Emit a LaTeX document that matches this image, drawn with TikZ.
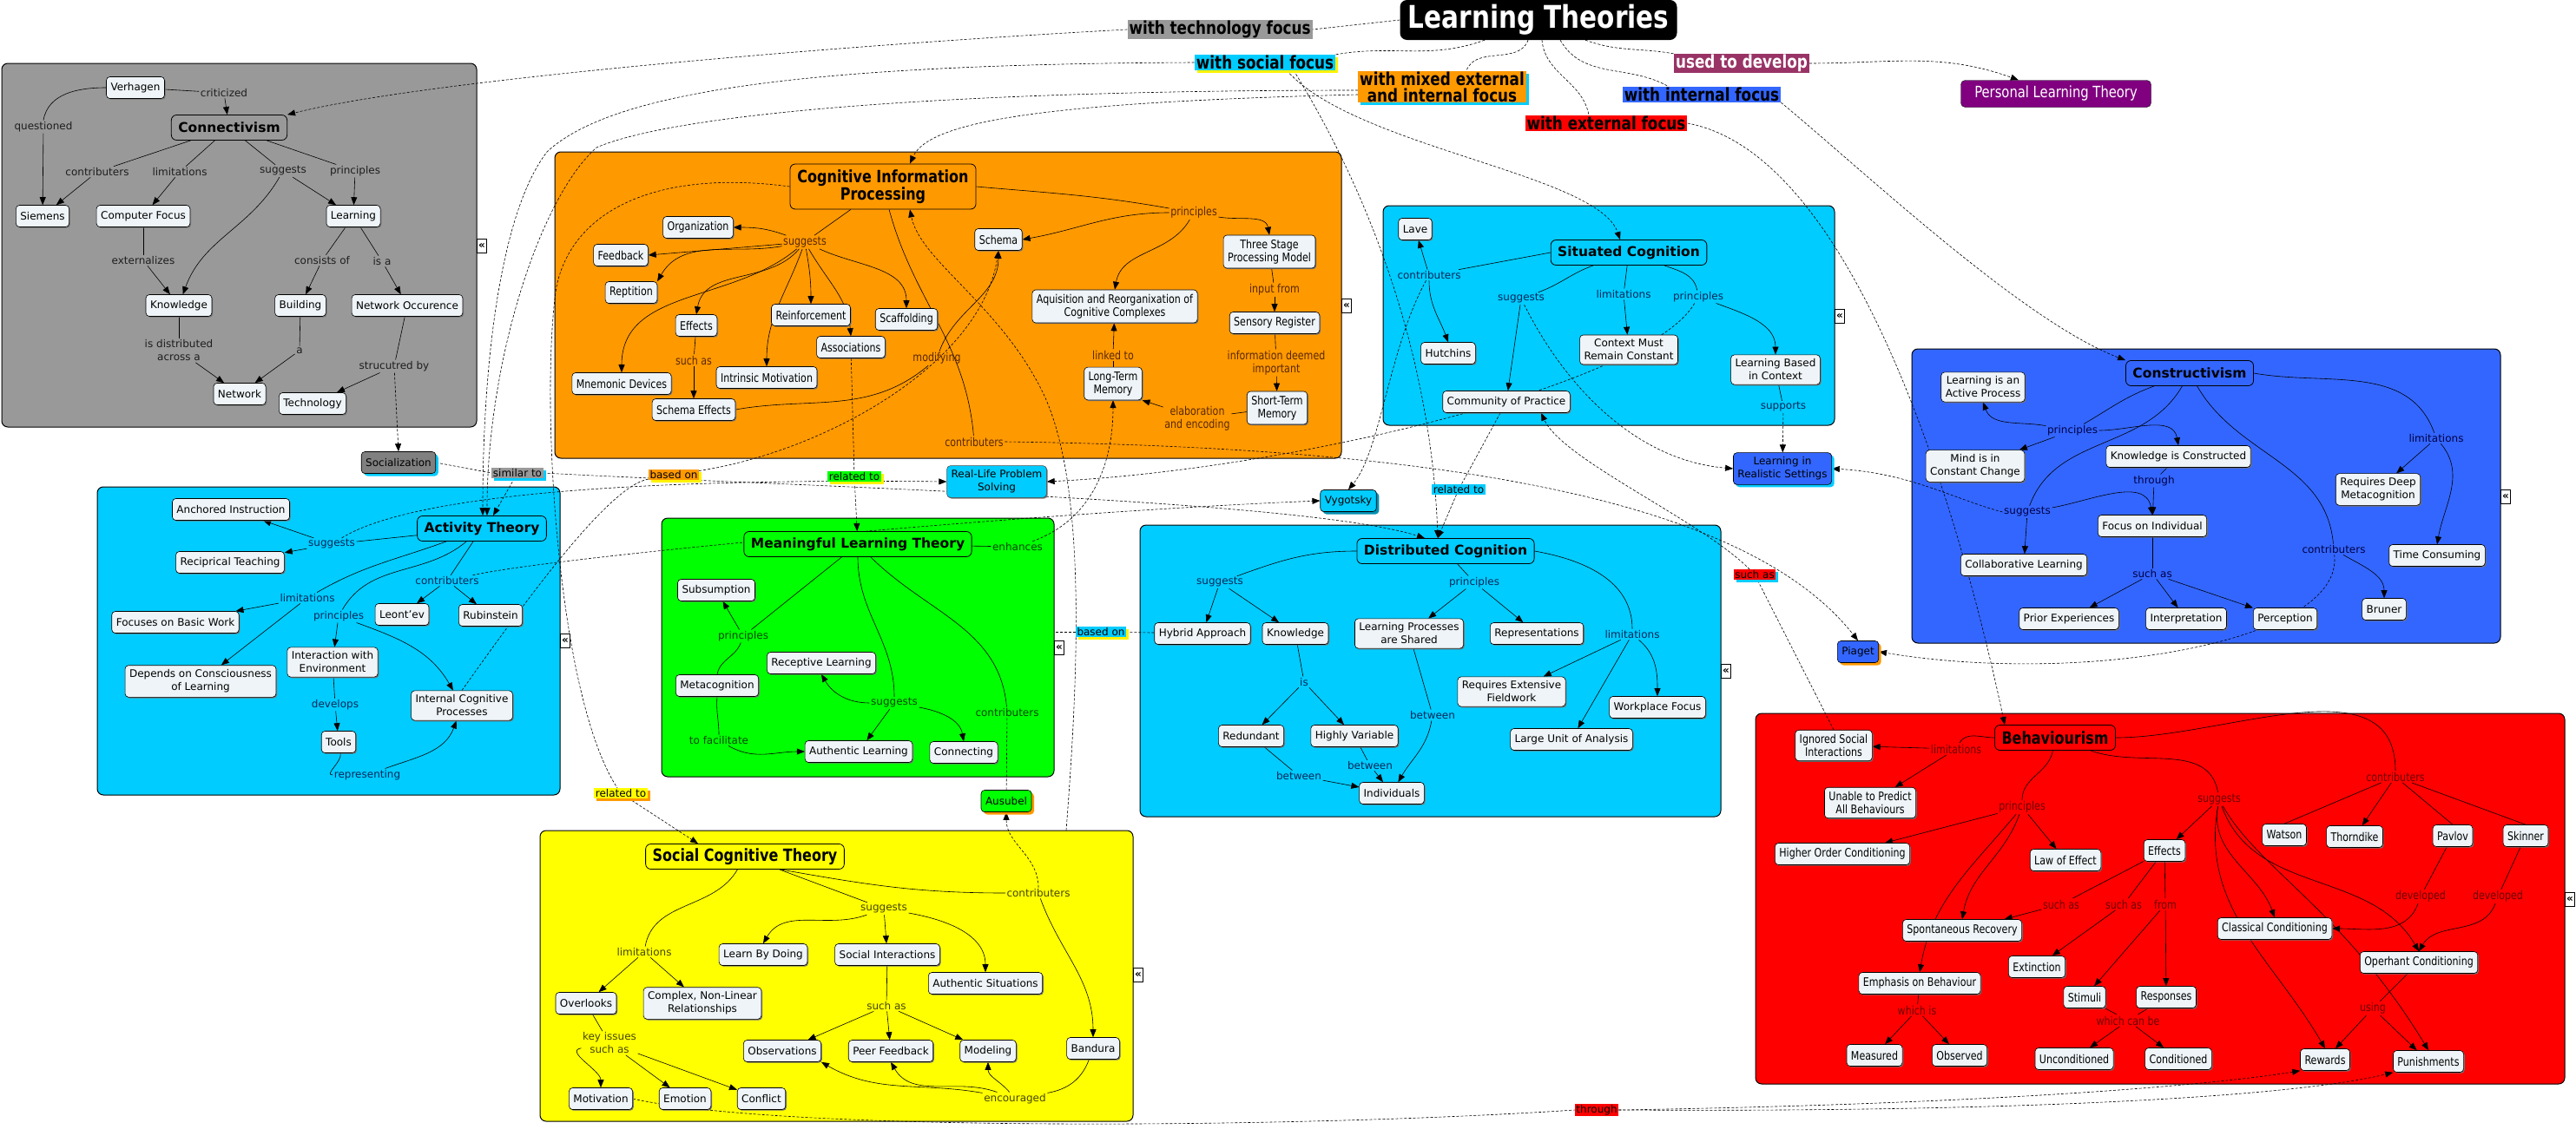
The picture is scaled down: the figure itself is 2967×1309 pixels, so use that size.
\documentclass[tikz,border=0pt]{standalone}
\usepackage{fontspec}
\setmainfont{DejaVu Sans}
\newfontfamily\cond[FakeStretch=0.82]{DejaVu Sans}
\usetikzlibrary{arrows.meta,shadows}
\pgfdeclarelayer{back}
\pgfdeclarelayer{mid}
\pgfsetlayers{back,mid,main}
\definecolor{cGray}{RGB}{153,153,153}
\definecolor{cSoc}{RGB}{128,128,128}
\definecolor{cOrange}{RGB}{255,153,0}
\definecolor{cCyan}{RGB}{0,204,255}
\definecolor{cGreen}{RGB}{0,255,0}
\definecolor{cYellow}{RGB}{255,255,0}
\definecolor{cBlue}{RGB}{51,102,255}
\definecolor{cRed}{RGB}{255,0,0}
\definecolor{cPurple}{RGB}{128,0,128}
\definecolor{cUsed}{RGB}{153,51,102}
\definecolor{cNode}{RGB}{238,244,247}
\definecolor{tGray}{RGB}{30,30,30}
\definecolor{tOr}{RGB}{90,40,0}
\definecolor{tCy}{RGB}{0,40,90}
\definecolor{tGr}{RGB}{0,70,0}
\definecolor{tYe}{RGB}{70,70,0}
\definecolor{tRe}{RGB}{110,0,0}
\definecolor{tBl}{RGB}{0,0,70}
\newcommand\fnorm{\fontsize{12}{15}\selectfont}
\newcommand\fcond{\cond\fontsize{13.5}{15}\selectfont}
\newcommand\Ln[2]{\draw[ed] (#1) -- (#2);}
\newcommand\Ar[2]{\draw[ar] (#1) -- (#2);}
\tikzset{
 cn/.style={draw=black, line width=0.6pt, rounded corners=4pt, fill=cNode, inner xsep=5pt, inner ysep=5pt, minimum height=25pt, align=center, font=\fnorm, general shadow={fill=black!55, shadow xshift=1.2pt, shadow yshift=-1.2pt}},
 cc/.style={cn, font=\fcond},
 hd/.style={draw=black, line width=0.8pt, rounded corners=6pt, inner xsep=8pt, inner ysep=4pt, minimum height=29pt, align=center, font=\fontsize{15.5}{18}\selectfont\bfseries},
 hdc/.style={hd, font=\cond\fontsize{19.5}{20}\selectfont\bfseries},
 lb/.style={inner sep=1.5pt, align=center, font=\fnorm},
 lbc/.style={lb, font=\fcond},
 lbG/.style={lb, text=tGray},
 lbO/.style={lbc, text=tOr},
 lbS/.style={lb, text=tCy},
 lbM/.style={lb, text=tGr},
 lbY/.style={lb, text=tYe},
 lbR/.style={lbc, text=tRe},
 lbB/.style={lb, text=tBl},
 ed/.style={line width=0.6pt},
 ar/.style={line width=0.6pt, -{Triangle[length=9pt,width=7pt]}},
 dl/.style={line width=0.6pt, dash pattern=on 3pt off 2pt},
 da/.style={dl, -{Triangle[length=9pt,width=7pt]}},
 panel/.style={draw=black, line width=1pt, rounded corners=7pt, inner sep=0pt, outer sep=0pt},
 tl/.style={inner xsep=2pt, inner ysep=1pt, align=center, font=\cond\fontsize{20.5}{19}\selectfont\bfseries},
 cl/.style={inner xsep=1.5pt, inner ysep=1pt, font=\fnorm},
 sh/.style={general shadow={fill=#1, shadow xshift=3pt, shadow yshift=-3pt}},
 ico/.style={draw=black, fill=white, line width=0.5pt, inner sep=0.5pt, minimum width=11pt, minimum height=16pt, font=\fontsize{12}{12}\selectfont\bfseries},
}
\begin{document}
\begin{tikzpicture}[x=1pt,y=-1pt]
\useasboundingbox (0,0) rectangle (2967,1309);
\begin{pgfonlayer}{back}
\node[panel, fill=cGray, minimum width=547pt, minimum height=419pt] (Pg) at (275.5,282.5) {};
\node[panel, fill=cOrange, minimum width=906pt, minimum height=353pt] (Po) at (1092,351.5) {};
\node[panel, fill=cCyan, minimum width=520pt, minimum height=253pt] (Ps) at (1853,363.5) {};
\node[panel, fill=cBlue, minimum width=678pt, minimum height=339pt] (Pc) at (2541,571.5) {};
\node[panel, fill=cCyan, minimum width=533pt, minimum height=355pt] (Pa) at (378.5,738.5) {};
\node[panel, fill=cGreen, minimum width=452pt, minimum height=298pt] (Pm) at (988,746) {};
\node[panel, fill=cCyan, minimum width=669pt, minimum height=336pt] (Pd) at (1647.5,773) {};
\node[panel, fill=cYellow, minimum width=683pt, minimum height=335pt] (Py) at (963.5,1124.5) {};
\node[panel, fill=cRed, minimum width=932pt, minimum height=427pt] (Pr) at (2488,1035.5) {};
\end{pgfonlayer}
\coordinate (yTop) at (1228,957);
\coordinate (mRE) at (1214,728);
% collapse icons
\node[ico] (I1) at (555,283) {«};
\node[ico] (I2) at (1551,352) {«};
\node[ico] (I3) at (2119,364) {«};
\node[ico] (I4) at (2886,572) {«};
\node[ico] (I5) at (651,738) {«};
\node[ico] (I6) at (1220,746) {«};
\node[ico] (I7) at (1988,773) {«};
\node[ico] (I8) at (1311,1123) {«};
\node[ico] (I9) at (2960,1036) {«};
% ---------- title
\node[fill=black, text=white, rounded corners=8pt, inner sep=0pt, minimum width=319pt, minimum height=46pt, font=\cond\fontsize{36}{36}\selectfont\bfseries] (LT) at (1772,23) {Learning Theories};
\node[tl, fill=cGray] (tTech) at (1405,34) {with technology focus};
\node[tl, fill=cCyan, sh=yellow] (tSoc) at (1457,72) {with social focus};
\node[tl, fill=cOrange, sh=cCyan] (tMix) at (1661,100) {with mixed external\\and internal focus};
\node[tl, fill=cUsed, text=white] (tUsed) at (2006,73) {used to develop};
\node[tl, fill=cBlue] (tInt) at (1960,109) {with internal focus};
\node[tl, fill=cRed] (tExt) at (1850,142) {with external focus};
\node[draw=black, fill=cPurple, text=white, rounded corners=5pt, minimum width=219pt, minimum height=31pt, font=\cond\fontsize{18}{18}\selectfont] (PLT) at (2368,108) {Personal Learning Theory};
% ---------- Connectivism
\node[cn] (gVer) at (156,101) {Verhagen};
\node[hd, fill=cGray] (gCon) at (264,147) {Connectivism};
\node[cn] (gSie) at (49,249) {Siemens};
\node[cn] (gCF) at (165,249) {Computer Focus};
\node[cn] (gLea) at (407,249) {Learning};
\node[cn] (gKno) at (206,352) {Knowledge};
\node[cn] (gBui) at (346,352) {Building};
\node[cn] (gNO) at (469,352) {Network Occurence};
\node[cn] (gNet) at (276,454) {Network};
\node[cn] (gTec) at (360,465) {Technology};
\node[lbG] (gLcr) at (258,107) {criticized};
\node[lbG] (gLq) at (50,146) {questioned};
\node[lbG] (gLc) at (112,198) {contributers};
\node[lbG] (gLl) at (207,198) {limitations};
\node[lbG] (gLs) at (326,197) {suggests};
\node[lbG] (gLp) at (409,197) {principles};
\node[lbG] (gLe) at (165,300) {externalizes};
\node[lbG] (gLco) at (371,300) {consists of};
\node[lbG] (gLia) at (440,301) {is a};
\node[lbG] (gLd) at (206,404) {is distributed\\across a};
\node[lbG] (gLa) at (345,404) {a};
\node[lbG] (gLst) at (454,422) {strucutred by};
% ---------- free nodes
\node[cn, fill=cSoc, sh=cCyan] (xSoc) at (459,533) {Socialization};
\node[cl, fill=cGray, sh=cCyan] (xSim) at (596,545) {similar to};
\node[cn, fill=cCyan, draw=black!70] (RLPS) at (1148,555) {Real-Life Problem\\Solving};
\node[cn, fill=cCyan, sh=cCyan!70!black] (Vyg) at (1553,577) {Vygotsky};
\node[cn, fill=cBlue, sh=cCyan] (LRS) at (2053,540) {Learning in\\Realistic Settings};
\node[cn, fill=cBlue, sh=cOrange] (Pia) at (2140,751) {Piaget};
\node[cn, fill=cGreen, sh=cOrange] (Aus) at (1159,923) {Ausubel};
\node[cl, fill=cOrange, sh=yellow] (oBased) at (776,547) {based on};
\node[cl, fill=cGreen, sh=yellow] (mRel) at (984,549) {related to};
\node[cl, fill=cCyan] (sRel) at (1680,564) {related to};
\node[cl, fill=cCyan, sh=yellow] (dBased) at (1268,728) {based on};
\node[cl, fill=cYellow, sh=cOrange] (yRel) at (715,914) {related to};
\node[cl, fill=cRed, sh=cCyan] (rSuch) at (2021,662) {such as};
\node[cl, fill=cRed] (rThr) at (1839,1279) {through};
% ---------- Cognitive Information Processing
\node[hdc, fill=cOrange, minimum width=214pt, minimum height=52pt] (oCIP) at (1017,215) {Cognitive Information\\Processing};
\node[cc] (oOrg) at (804,262) {Organization};
\node[cc] (oFee) at (715,294) {Feedback};
\node[cc] (oRep) at (727,337) {Reptition};
\node[cc] (oEff) at (802,375) {Effects};
\node[cc] (oRei) at (934,363) {Reinforcement};
\node[cc] (oSca) at (1044,368) {Scaffolding};
\node[cc] (oAss) at (980,400) {Associations};
\node[cc] (oInt) at (883,435) {Intrinsic Motivation};
\node[cc] (oMne) at (716,442) {Mnemonic Devices};
\node[cc] (oSE) at (799,472) {Schema Effects};
\node[cc] (oSch) at (1150,276) {Schema};
\node[cc] (oTS) at (1462,290) {Three Stage\\Processing Model};
\node[cc] (oAq) at (1284,353) {Aquisition and Reorganixation of\\Cognitive Complexes};
\node[cc] (oSR) at (1468,372) {Sensory Register};
\node[cc] (oLTM) at (1282,442) {Long-Term\\Memory};
\node[cc] (oSTM) at (1471,470) {Short-Term\\Memory};
\node[lbO] (oLs) at (927,279) {suggests};
\node[lbO] (oLp) at (1375,245) {principles};
\node[lbO] (oLsa) at (799,415) {such as};
\node[lbO] (oLm) at (1079,413) {modifying};
\node[lbO] (oLl) at (1282,409) {linked to};
\node[lbO] (oLi) at (1468,334) {input from};
\node[lbO] (oLid) at (1470,418) {information deemed\\important};
\node[lbO] (oLe) at (1379,482) {elaboration\\and encoding};
\node[lbO] (oLc) at (1122,509) {contributers};
% ---------- Situated Cognition
\node[hd, fill=cCyan] (sSC) at (1876,291) {Situated Cognition};
\node[cn] (sLave) at (1630,264) {Lave};
\node[cn] (sHut) at (1668,407) {Hutchins};
\node[cn] (sCoP) at (1735,463) {Community of Practice};
\node[cn] (sCtx) at (1876,403) {Context Must\\Remain Constant};
\node[cn] (sLBC) at (2045,426) {Learning Based\\in Context};
\node[lbS] (sLc) at (1646,317) {contributers};
\node[lbS] (sLs) at (1752,344) {suggests};
\node[lbS] (sLl) at (1870,339) {limitations};
\node[lbS] (sLp) at (1956,342) {principles};
\node[lbS] (sLsup) at (2054,469) {supports};
% ---------- Constructivism
\node[hd, fill=cBlue] (cCon) at (2522,430) {Constructivism};
\node[cn] (cLAP) at (2284,446) {Learning is an\\Active Process};
\node[cn] (cMind) at (2275,537) {Mind is in\\Constant Change};
\node[cn] (cKIC) at (2509,526) {Knowledge is Constructed};
\node[cn] (cFoc) at (2479,606) {Focus on Individual};
\node[cn] (cCol) at (2331,651) {Collaborative Learning};
\node[cn] (cPrior) at (2383,713) {Prior Experiences};
\node[cn] (cInterp) at (2518,713) {Interpretation};
\node[cn] (cPerc) at (2632,713) {Perception};
\node[cn] (cReq) at (2739,564) {Requires Deep\\Metacognition};
\node[cn] (cTime) at (2807,640) {Time Consuming};
\node[cn] (cBru) at (2746,702) {Bruner};
\node[lbB] (cLp) at (2387,496) {principles};
\node[lbB] (cLt) at (2481,554) {through};
\node[lbB] (cLs) at (2335,590) {suggests};
\node[lbB] (cLsa) at (2479,661) {such as};
\node[lbB] (cLl) at (2806,505) {limitations};
\node[lbB] (cLc) at (2688,633) {contributers};
% ---------- Activity Theory
\node[hd, fill=cCyan] (aAT) at (555,609) {Activity Theory};
\node[cn] (aAnch) at (266,587) {Anchored Instruction};
\node[cn] (aRecip) at (265,648) {Reciprical Teaching};
\node[cn] (aFoc) at (202,717) {Focuses on Basic Work};
\node[cn] (aDep) at (231,785) {Depends on Consciousness\\of Learning};
\node[cn] (aInt) at (383,763) {Interaction with\\Environment};
\node[cn] (aLeo) at (463,708) {Leont'ev};
\node[cn] (aRub) at (565,709) {Rubinstein};
\node[cn] (aICP) at (532,813) {Internal Cognitive\\Processes};
\node[cn] (aTools) at (390,855) {Tools};
\node[lbS] (aLs) at (382,627) {suggests};
\node[lbS] (aLl) at (354,689) {limitations};
\node[lbS] (aLp) at (390,710) {principles};
\node[lbS] (aLc) at (515,669) {contributers};
\node[lbS] (aLd) at (386,812) {develops};
\node[lbS] (aLr) at (423,893) {representing};
% ---------- Meaningful Learning Theory
\node[hd, fill=cGreen] (mMLT) at (988,627) {Meaningful Learning Theory};
\node[cn] (mSub) at (825,680) {Subsumption};
\node[cn] (mMeta) at (826,790) {Metacognition};
\node[cn] (mRec) at (946,764) {Receptive Learning};
\node[cn] (mAuth) at (989,866) {Authentic Learning};
\node[cn] (mConn) at (1110,867) {Connecting};
\node[lbM] (mLen) at (1172,630) {enhances};
\node[lbM] (mLp) at (856,733) {principles};
\node[lbM] (mLs) at (1030,810) {suggests};
\node[lbM] (mLc) at (1160,821) {contributers};
\node[lbM] (mLf) at (828,853) {to facilitate};
% ---------- Distributed Cognition
\node[hd, fill=cCyan] (dDC) at (1665,635) {Distributed Cognition};
\node[cn] (dHyb) at (1385,730) {Hybrid Approach};
\node[cn] (dKno) at (1492,730) {Knowledge};
\node[cn] (dLPS) at (1623,730) {Learning Processes\\are Shared};
\node[cn] (dRep) at (1770,730) {Representations};
\node[cn] (dReq) at (1741,797) {Requires Extensive\\Fieldwork};
\node[cn] (dWork) at (1909,815) {Workplace Focus};
\node[cn] (dLarge) at (1810,852) {Large Unit of Analysis};
\node[cn] (dRed) at (1441,848) {Redundant};
\node[cn] (dHV) at (1560,848) {Highly Variable};
\node[cn] (dInd) at (1603,914) {Individuals};
\node[lbS] (dLs) at (1405,671) {suggests};
\node[lbS] (dLp) at (1698,671) {principles};
\node[lbS] (dLl) at (1880,731) {limitations};
\node[lbS] (dLis) at (1502,786) {is};
\node[lbS] (dLb3) at (1650,824) {between};
\node[lbS] (dLb2) at (1578,882) {between};
\node[lbS] (dLb1) at (1496,894) {between};
% ---------- Social Cognitive Theory
\node[hdc, fill=cYellow] (yS) at (858,987) {Social Cognitive Theory};
\node[cn] (yLBD) at (879,1100) {Learn By Doing};
\node[cn] (ySI) at (1022,1100) {Social Interactions};
\node[cn] (yAuth) at (1135,1133) {Authentic Situations};
\node[cn] (yOver) at (675,1156) {Overlooks};
\node[cn] (yComp) at (809,1156) {Complex, Non-Linear\\Relationships};
\node[cn] (yObs) at (901,1211) {Observations};
\node[cn] (yPF) at (1026,1211) {Peer Feedback};
\node[cn] (yMod) at (1138,1211) {Modeling};
\node[cn] (yBan) at (1259,1208) {Bandura};
\node[cn] (yMot) at (692,1266) {Motivation};
\node[cn] (yEmo) at (789,1266) {Emotion};
\node[cn] (yCon) at (877,1266) {Conflict};
\node[lbY] (yLl) at (742,1097) {limitations};
\node[lbY] (yLs) at (1018,1047) {suggests};
\node[lbY] (yLc) at (1196,1029) {contributers};
\node[lbY] (yLsa) at (1021,1159) {such as};
\node[lbY] (yLk) at (702,1202) {key issues\\such as};
\node[lbY] (yLe) at (1169,1266) {encouraged};
% ---------- Behaviourism
\node[hdc, fill=cRed] (rB) at (2367,850) {Behaviourism};
\node[cc] (rIgn) at (2112,859) {Ignored Social\\Interactions};
\node[cc] (rUna) at (2154,925) {Unable to Predict\\All Behaviours};
\node[cc] (rHOC) at (2122,984) {Higher Order Conditioning};
\node[cc] (rLoE) at (2379,991) {Law of Effect};
\node[cc] (rEff) at (2493,980) {Effects};
\node[cc] (rWat) at (2631,962) {Watson};
\node[cc] (rTho) at (2712,964) {Thorndike};
\node[cc] (rPav) at (2825,963) {Pavlov};
\node[cc] (rSki) at (2909,963) {Skinner};
\node[cc] (rSR) at (2260,1072) {Spontaneous Recovery};
\node[cc] (rCC) at (2620,1070) {Classical Conditioning};
\node[cc] (rExt) at (2346,1114) {Extinction};
\node[cc] (rOC) at (2786,1109) {Operhant Conditioning};
\node[cc] (rEmph) at (2211,1133) {Emphasis on Behaviour};
\node[cc] (rStim) at (2401,1149) {Stimuli};
\node[cc] (rResp) at (2495,1149) {Responses};
\node[cc] (rMea) at (2159,1216) {Measured};
\node[cc] (rObs) at (2257,1216) {Observed};
\node[cc] (rUnc) at (2389,1220) {Unconditioned};
\node[cc] (rCon) at (2509,1220) {Conditioned};
\node[cc] (rRew) at (2678,1221) {Rewards};
\node[cc] (rPun) at (2797,1223) {Punishments};
\node[lbR] (rLl) at (2253,863) {limitations};
\node[lbR] (rLp) at (2329,930) {principles};
\node[lbR] (rLs) at (2556,921) {suggests};
\node[lbR] (rLc) at (2759,895) {contributers};
\node[lbR] (rLsa1) at (2374,1042) {such as};
\node[lbR] (rLsa2) at (2446,1042) {such as};
\node[lbR] (rLf) at (2494,1042) {from};
\node[lbR] (rLd1) at (2788,1033) {developed};
\node[lbR] (rLd2) at (2877,1033) {developed};
\node[lbR] (rLwi) at (2208,1164) {which is};
\node[lbR] (rLwc) at (2451,1176) {which can be};
\node[lbR] (rLu) at (2733,1162) {using};
% ================= connectors
\begin{pgfonlayer}{mid}
% title
\draw[dl] (LT.west) -- (tTech.east);
\draw[dl] ([xshift=-62pt]LT.south) to[out=-160,in=10] (tSoc.north east);
\draw[dl] ([xshift=-12pt]LT.south) to[out=-110,in=70] ([xshift=28pt]tMix.north);
\draw[dl] ([xshift=4pt]LT.south) to[out=-85,in=100] ([xshift=-20pt]tExt.north);
\draw[dl] ([xshift=25pt]LT.south) to[out=-60,in=150] ([xshift=-38pt]tInt.north);
\draw[dl] ([xshift=54pt]LT.south) to[out=-20,in=170] (tUsed.north west);
\draw[da] (tUsed.east) to[out=0,in=160] (PLT.160);
\draw[da] (tTech.west) .. controls (1000,50) and (500,90) .. (gCon.north east);
\draw[da] (tSoc.west) .. controls (900,74) and (700,110) .. (630,175) .. controls (580,240) and (556,400) .. ([xshift=1pt]aAT.north);
\draw[da] ([yshift=-4pt]tMix.west) .. controls (1100,104) and (780,130) .. (687,170) .. controls (620,230) and (561,420) .. ([xshift=6pt]aAT.north);
\draw[da] ([xshift=25pt]tSoc.south) .. controls (1560,170) and (1840,200) .. ([xshift=-10pt]sSC.north);
\draw[da] ([xshift=33pt]tSoc.south) .. controls (1600,260) and (1650,450) .. ([xshift=-9pt]dDC.north);
\draw[da] ([yshift=-9pt]tMix.west) .. controls (1200,118) and (1070,140) .. ([xshift=31pt]oCIP.north);
\draw[da] (tInt.south east) .. controls (2150,200) and (2330,370) .. (cCon.north west);
\draw[da] (tExt.east) .. controls (2150,180) and (2270,650) .. ([xshift=-58pt]rB.north);
% Connectivism
\Ln{gVer}{gLcr} \Ar{gLcr}{gCon}
\draw[ed] (gVer.west) to[out=180,in=80] (gLq.north);
\Ar{gLq}{gSie}
\Ln{gCon}{gLc} \Ar{gLc}{gSie}
\Ln{gCon}{gLl} \Ar{gLl}{gCF}
\Ln{gCon}{gLs} \Ar{gLs}{gLea}
\draw[ar] (gLs) to[out=-120,in=70] (gKno);
\Ln{gCon}{gLp} \Ar{gLp}{gLea}
\Ln{gCF}{gLe} \Ar{gLe}{gKno}
\Ln{gLea}{gLco} \Ar{gLco}{gBui}
\Ln{gLea}{gLia} \Ar{gLia}{gNO}
\Ln{gKno}{gLd} \Ar{gLd}{gNet}
\Ln{gBui}{gLa} \Ar{gLa}{gNet}
\Ln{gNO}{gLst} \Ar{gLst}{gTec}
\draw[da] (gLst) -- (xSoc.north);
\draw[dl] (xSoc.east) -- (xSim.west);
\draw[da] (xSim) -- ([xshift=13pt]aAT.north);
\draw[da] (xSim.east) .. controls (900,560) and (1500,575) .. ([xshift=-24pt]dDC.north);
% CIP
\Ln{oCIP}{oLs}
\draw[ar] (oLs) to[out=160,in=0] (oOrg.east);
\draw[ar] (oLs) -- (oFee.east);
\draw[ar] (oLs) to[out=-170,in=60] (oRep.north east);
\draw[ar] (oLs) to[out=-130,in=80] (oEff.north);
\draw[ar] (oLs) to[out=-140,in=90] (oMne.north);
\draw[ar] (oLs) to[out=-110,in=90] (oInt.north);
\draw[ar] (oLs) to[out=-80,in=90] (oRei.north);
\draw[ar] (oLs) to[out=-60,in=95] (oAss.north);
\draw[ar] (oLs) to[out=-25,in=90] (oSca.north);
\draw[ed] (oCIP.east) to[out=-5,in=170] (oLp);
\draw[ar] (oLp) to[out=180,in=10] (oSch.east);
\draw[ar] (oLp) to[out=-10,in=100] (oTS.north);
\draw[ar] (oLp) to[out=-120,in=80] (oAq.north);
\Ln{oEff}{oLsa} \Ar{oLsa}{oSE}
\draw[ed] (oSE.east) to[out=10,in=-140] (oLm);
\draw[ar] (oLm) to[out=70,in=-90] (oSch.south);
\Ln{oLTM}{oLl} \Ar{oLl}{oAq}
\Ln{oTS}{oLi} \Ar{oLi}{oSR}
\Ln{oSR}{oLid} \Ar{oLid}{oSTM}
\Ln{oSTM}{oLe} \draw[ar] (oLe) -- (oLTM.south east);
\draw[ed] (oCIP.-75) to[out=-75,in=95] (oLc);
\draw[da] (oLc.east) .. controls (1600,515) and (2000,560) .. (Pia.north);
\draw[da] (yTop) .. controls (1240,800) and (1255,560) .. (1200,450) .. controls (1150,350) and (1060,300) .. ([xshift=31pt]oCIP.south);
% Situated
\Ln{sSC.west}{sLc}
\Ar{sLc}{sLave}
\draw[ar] (sLc) to[out=-90,in=110] (sHut.north);
\draw[da] (sLc) .. controls (1600,400) and (1590,520) .. (Vyg.north);
\draw[ed] (sSC) to[out=-160,in=20] (sLs);
\Ar{sLs}{sCoP}
\draw[da] (sLs) .. controls (1800,440) and (1880,530) .. (LRS.west);
\Ln{sSC}{sLl} \Ar{sLl}{sCtx}
\draw[ed] (sSC) to[out=-20,in=100] (sLp);
\draw[ar] (sLp) to[out=-20,in=90] (sLBC.north);
\draw[da] (sLp) .. controls (1900,440) and (1500,540) .. (RLPS.east);
\Ln{sLBC}{sLsup}
\draw[da] (sLsup) -- (LRS);
\draw[dl] (sCoP) -- (sRel);
\draw[da] (sRel) -- ([xshift=-9pt]dDC.north);
% Constructivism
\draw[ed] (cCon) to[out=-160,in=30] (cLp);
\draw[ar] (cLp) to[out=170,in=-70] (cLAP.south);
\Ar{cLp}{cMind}
\draw[ar] (cLp) to[out=0,in=100] (cKIC.north);
\Ln{cKIC}{cLt} \Ar{cLt}{cFoc}
\draw[ed] (cCon) to[out=-120,in=70] (cLs);
\draw[ar] (cLs) to[out=10,in=100] (cFoc.north);
\Ar{cLs}{cCol}
\draw[da] (cLs.west) .. controls (2250,575) and (2200,545) .. (LRS.east);
\Ln{cFoc}{cLsa} \Ar{cLsa}{cPrior} \Ar{cLsa}{cInterp} \Ar{cLsa}{cPerc}
\draw[ed] (cCon.east) to[out=-10,in=110] (cLl);
\Ar{cLl}{cReq}
\draw[ar] (cLl) to[out=-50,in=80] (cTime.north);
\draw[ed] (cCon) to[out=-60,in=95] (cLc);
\draw[ar] (cLc) to[out=-30,in=90] (cBru.north);
\draw[da] (cLc) .. controls (2700,740) and (2400,790) .. (Pia.east);
% Activity Theory
\Ln{aAT}{aLs} \Ar{aLs}{aAnch} \Ar{aLs}{aRecip}
\draw[ed] (aAT) to[out=-160,in=30] (aLl);
\Ar{aLl}{aFoc} \Ar{aLl}{aDep}
\draw[ed] (aAT) to[out=-140,in=60] (aLp);
\Ar{aLp}{aInt}
\draw[ar] (aLp) to[out=-20,in=120] (aICP);
\Ln{aAT}{aLc} \Ar{aLc}{aLeo} \Ar{aLc}{aRub}
\Ln{aInt}{aLd} \Ar{aLd}{aTools}
\draw[ed] (aTools) to[out=-80,in=180] (aLr);
\draw[ar] (aLr) to[out=20,in=-110] (aICP);
\draw[da] (aLs) .. controls (450,585) and (620,550) .. (RLPS.west);
\draw[da] (aLc) .. controls (650,640) and (1200,590) .. (Vyg.west);
\draw[dl] (aICP.north) .. controls (600,700) and (700,560) .. (oBased);
\draw[da] (oBased) .. controls (950,520) and (1130,420) .. (oSch.south);
% Meaningful
\Ln{mMLT}{mLp}
\draw[ed] (mMeta.north) to[out=80,in=-110] (mLp);
\Ar{mLp}{mSub}
\draw[ed] (mMLT) to[out=-90,in=90] (mLs);
\draw[ar] (mLs) to[out=180,in=-60] (mRec.south);
\Ar{mLs}{mAuth} \draw[ar] (mLs) to[out=-10,in=100] (mConn.north);
\draw[ed] (mMeta.south) to[out=-95,in=90] (mLf);
\draw[ar] (mLf) to[out=-30,in=180] (mAuth.west);
\draw[ed] (mMLT) to[out=-45,in=95] (mLc);
\draw[dl] (mLc) -- (Aus);
\Ln{mMLT}{mLen}
\draw[da] (mLen) to[out=20,in=-90] (oLTM.south);
\draw[dl] (oAss) -- (mRel);
\draw[da] (mRel) -- (mMLT);
% Distributed
\draw[ed] (dDC.west) to[out=180,in=20] (dLs);
\Ar{dLs}{dHyb} \Ar{dLs}{dKno}
\Ln{dDC}{dLp} \Ar{dLp}{dLPS} \Ar{dLp}{dRep}
\draw[ed] (dDC.east) to[out=-10,in=90] (dLl);
\Ar{dLl}{dReq}
\draw[ar] (dLl) to[out=-40,in=90] (dWork.north);
\Ar{dLl}{dLarge}
\Ln{dKno}{dLis} \Ar{dLis}{dRed} \Ar{dLis}{dHV}
\Ln{dRed}{dLb1} \Ar{dLb1}{dInd}
\Ln{dHV}{dLb2} \Ar{dLb2}{dInd}
\Ln{dLPS}{dLb3} \draw[ar] (dLb3) to[out=-100,in=60] (dInd);
\draw[dl] (dHyb) -- (dBased);
\draw[dl] (dBased.west) -- (mRE);
% Social Cognitive
\draw[ed] (yS) to[out=-120,in=80] (yLl);
\Ar{yLl}{yOver} \Ar{yLl}{yComp}
\Ln{yS}{yLs}
\draw[ar] (yLs) to[out=-160,in=60] (yLBD.north);
\Ar{yLs}{ySI}
\draw[ar] (yLs) to[out=-10,in=90] (yAuth.north);
\draw[ed] (yS.-20) to[out=-10,in=180] (yLc);
\draw[ar] (yLc) to[out=-70,in=90] (yBan.north);
\draw[da] (yLc) to[out=90,in=-90] (Aus.south);
\Ln{ySI}{yLsa} \Ar{yLsa}{yObs} \Ar{yLsa}{yPF} \Ar{yLsa}{yMod}
\Ln{yOver}{yLk}
\draw[ar] (yLk) to[out=-170,in=90] (yMot.north);
\Ar{yLk}{yEmo} \Ar{yLk}{yCon}
\draw[ed] (yBan) to[out=-110,in=10] (yLe);
\draw[ar] (yLe) to[out=170,in=-30] (yObs.south east);
\draw[ar] (yLe) to[out=160,in=-60] (yPF.south);
\draw[ar] (yLe) to[out=130,in=-90] (yMod.south);
\draw[dl] (oCIP.west) .. controls (760,195) and (660,240) .. (641,330) .. controls (622,450) and (640,800) .. (yRel);
\draw[da] (yRel) -- ([xshift=-54pt]yS.north);
\draw[dl] (yMot.east) .. controls (900,1305) and (1500,1300) .. (rThr.west);
\draw[da] (rThr.east) .. controls (2300,1272) and (2550,1250) .. (rRew.south west);
\draw[da] (rThr.east) .. controls (2350,1282) and (2650,1262) .. (rPun.south west);
% Behaviourism
\draw[ed] (rB.west) to[out=180,in=60] (rLl);
\Ar{rLl}{rIgn} \Ar{rLl}{rUna}
\draw[ed] (rB) to[out=-100,in=90] (rLp);
\Ar{rLp}{rHOC} \Ar{rLp}{rLoE}
\draw[ar] (rLp) to[out=-110,in=80] (rSR.north);
\draw[ar] (rLp) to[out=-130,in=80] (rEmph.north);
\draw[ed] (rB) to[out=-20,in=100] (rLs);
\Ar{rLs}{rEff}
\draw[ar] (rLs) to[out=-100,in=110] (rCC.north);
\draw[ar] (rLs) to[out=-70,in=120] (rOC.north);
\draw[ar] (rLs) to[out=-100,in=120] (rRew.north);
\draw[ar] (rLs) .. controls (2600,1000) and (2700,1050) .. (rPun.north);
\draw[ed] (rB.east) to[out=0,in=90] (rLc);
\Ln{rLc}{rWat.north} \Ar{rLc}{rTho} \Ln{rLc}{rPav.north} \Ln{rLc}{rSki.north}
\Ln{rEff}{rLsa1} \Ar{rLsa1}{rSR}
\Ln{rEff}{rLsa2} \Ar{rLsa2}{rExt}
\Ln{rEff}{rLf} \Ar{rLf}{rStim} \Ar{rLf}{rResp}
\Ln{rPav}{rLd1} \draw[ar] (rLd1) to[out=-110,in=0] (rCC.east);
\Ln{rSki}{rLd2} \draw[ar] (rLd2) to[out=-110,in=60] (rOC.north);
\Ln{rEmph}{rLwi} \Ar{rLwi}{rMea} \Ar{rLwi}{rObs}
\Ln{rStim}{rLwc} \Ln{rResp}{rLwc} \Ar{rLwc}{rUnc} \Ar{rLwc}{rCon}
\Ln{rOC}{rLu} \Ar{rLu}{rRew} \Ar{rLu}{rPun}
\draw[dl] (rIgn.north) -- (rSuch);
\draw[da] (rSuch) .. controls (1960,600) and (1800,530) .. ([xshift=40pt]sCoP.south);
\end{pgfonlayer}
\end{tikzpicture}
\end{document}
